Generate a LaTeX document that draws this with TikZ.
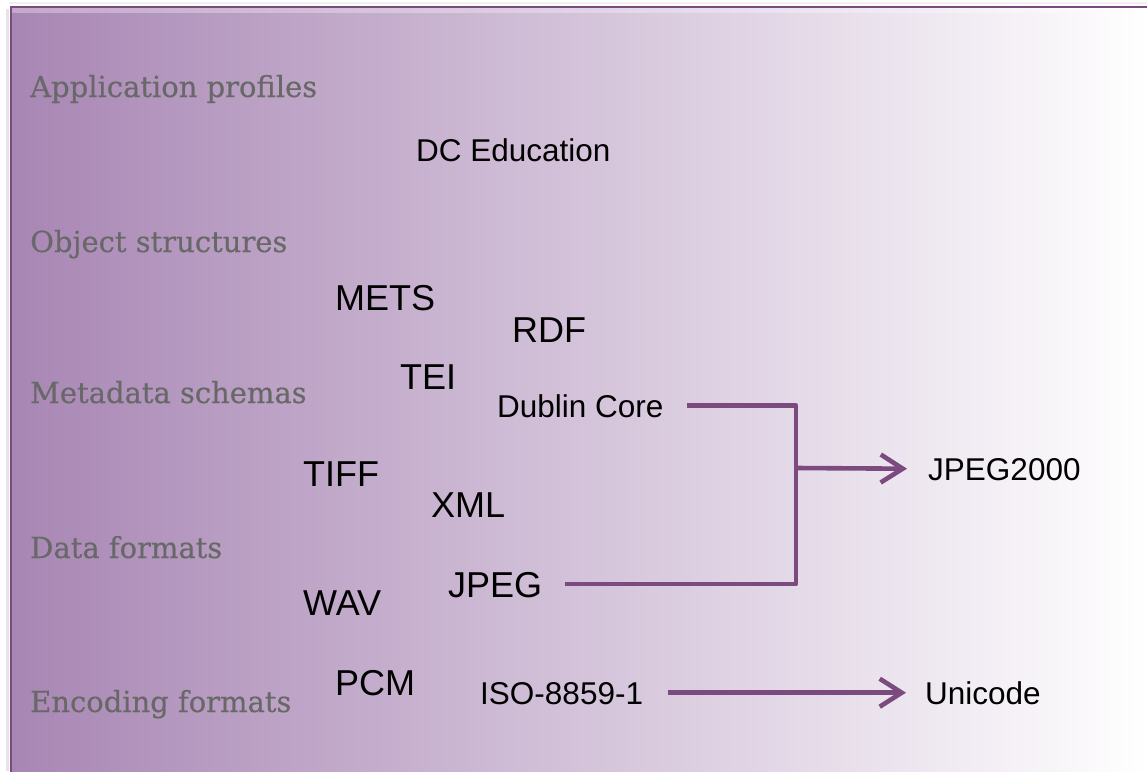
\documentclass[tikz,border=0pt]{standalone}
\usepackage{fontspec}
\setmainfont{Liberation Sans}
\newfontfamily\labelfont[FakeBold=0.4]{DejaVu Serif}
\usetikzlibrary{arrows.meta}
\definecolor{linec}{RGB}{123,74,126}
\definecolor{bgl}{RGB}{168,134,180}
\definecolor{labc}{RGB}{104,104,104}
\begin{document}
\begin{tikzpicture}[x=1pt,y=-1pt,
  lab/.style={anchor=base west, inner sep=0pt, text=labc, font=\labelfont\fontsize{29}{31}\selectfont},
  big/.style={anchor=base west, inner sep=0pt, text height=25.8pt, text depth=0pt, font=\fontsize{36}{40}\selectfont},
  small/.style={anchor=base west, inner sep=0pt, text height=22.6pt, text depth=0pt, font=\fontsize{31.5}{34}\selectfont},
  conn/.style={draw=linec, line width=4.6pt, line join=round},
  tip/.style={-{Straight Barb[length=22pt,width=28pt,line width=4.6pt]}}
]
\useasboundingbox (0,0) rectangle (1147,771);
\fill[white] (0,0) rectangle (1147,771);
\shade[left color=bgl, right color=white] (11,7) rectangle (1147,771);
\fill[white, opacity=0.3] (12,8) rectangle (1147,13);
\draw[black!10, line width=3pt] (7,9) -- (7,771);
\draw[black!6, line width=2pt] (9,3) -- (1147,3);
\draw[linec, line width=2.4pt] (1160,7) -- (11,7) -- (11,780);

\node[lab] (ap) at (30,97) {Application profiles};
\node[lab] (os) at (30,252) {Object structures};
\node[lab] (ms) at (30,403) {Metadata schemas};
\node[lab] (df) at (30,558) {Data formats};
\node[lab] (ef) at (30,712) {Encoding formats};

\node[small] (dce) at (416,161) {DC Education};
\node[big] (mets) at (335,310) {METS};
\node[big] (rdf) at (512,342) {RDF};
\node[big] (tei) at (400,389) {TEI};
\node[small] (dc) at (497,417) {Dublin Core};
\node[big] (tiff) at (303,486) {TIFF};
\node[big] (xml) at (431,517) {XML};
\node[big] (jpeg) at (448,597) {JPEG};
\node[big] (wav) at (303,615) {WAV};
\node[big] (pcm) at (335,695) {PCM};
\node[small] (iso) at (480,704) {ISO-8859-1};
\node[small] (jp2) at (928,480) {JPEG2000};
\node[small] (uni) at (925,704) {Unicode};

\coordinate (jn) at (796,468);
\draw[conn] ([xshift=23pt]dc.east) -| (jn) |- ([xshift=23pt]jpeg.east);
\draw[conn,tip] (jn) -- ([xshift=-21pt]jp2.west);
\draw[conn,tip] ([xshift=25pt]iso.east) -- ([xshift=-19pt]uni.west);
\end{tikzpicture}
\end{document}
